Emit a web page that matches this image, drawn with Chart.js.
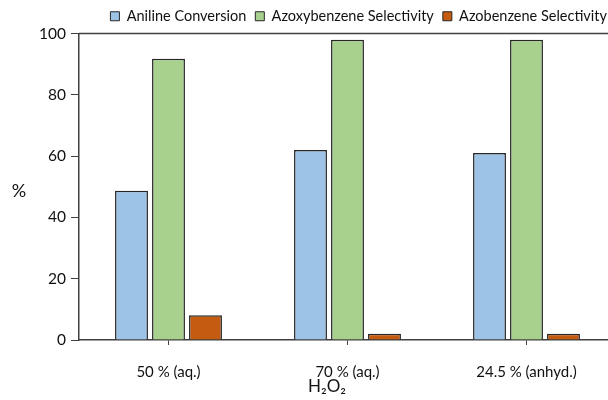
<!DOCTYPE html>
<html>
<head>
<meta charset="utf-8">
<script src="https://cdn.jsdelivr.net/npm/chart.js@4.4.1/dist/chart.umd.min.js"></script>
<style>
  html, body { margin: 0; padding: 0; background: #fff; overflow: hidden; }
  #wrap { width: 608px; height: 400px; overflow: hidden; }
</style>
</head>
<body>
<div id="wrap"><canvas id="chart" width="640" height="400"></canvas></div>
<script>
// data
const categories = ["50 % (aq.)", "70 % (aq.)", "24.5 % (anhyd.)"];
const anilineConversion = [48.7, 62, 61];
const azoxySelectivity = [91.8, 98, 98];
const azoSelectivity = [8.1, 2, 2];
const yTicks = [0, 20, 40, 60, 80, 100];

const FONT = "Lato, 'Open Sans', sans-serif";
const INK = "#404040";
const TEXT = "#111";

// top frame line + '%' and H2O2 labels
const extras = {
  id: "extras",
  afterDraw(chart) {
    const ctx = chart.ctx;
    const a = chart.chartArea;
    ctx.save();
    ctx.strokeStyle = INK;
    ctx.lineWidth = 1.5;
    ctx.beginPath();
    ctx.moveTo(a.left, a.top);
    ctx.lineTo(a.right, a.top);
    ctx.stroke();

    ctx.fillStyle = TEXT;
    ctx.textAlign = "center";
    ctx.textBaseline = "middle";
    ctx.font = "18px " + FONT;
    ctx.fillText("%", 19, 191);
    ctx.font = "17px " + FONT;
    ctx.fillText("H₂O₂", 327, 387);
    ctx.restore();
  }
};

new Chart(document.getElementById("chart"), {
  type: "bar",
  data: {
    labels: categories,
    datasets: [
      { label: "Aniline Conversion", data: anilineConversion, backgroundColor: "#9dc3e6" },
      { label: "Azoxybenzene Selectivity", data: azoxySelectivity, backgroundColor: "#a9d18e" },
      { label: "Azobenzene Selectivity", data: azoSelectivity, backgroundColor: "#c55a11" }
    ]
  },
  options: {
    responsive: false,
    animation: false,
    layout: { padding: { left: 0, right: 24, top: 0, bottom: 0 } },
    datasets: {
      bar: {
        borderColor: "#262626",
        borderWidth: 1.5,
        barPercentage: 0.89,
        categoryPercentage: 0.62
      }
    },
    plugins: {
      tooltip: { enabled: false },
      legend: {
        position: "top",
        align: "end",
        labels: {
          boxWidth: 9,
          boxHeight: 9,
          padding: 9,
          color: TEXT,
          font: { family: FONT, size: 14.5 },
          generateLabels(chart) {
            return chart.data.datasets.map((ds, i) => ({
              text: ds.label,
              fillStyle: ds.backgroundColor,
              strokeStyle: "#262626",
              lineWidth: 1,
              fontColor: TEXT,
              datasetIndex: i
            }));
          }
        }
      }
    },
    scales: {
      x: {
        afterFit(scale) { scale.height = 60; },
        grid: {
          display: true,
          offset: false,
          drawOnChartArea: false,
          drawTicks: true,
          tickLength: 5,
          color: INK
        },
        border: { display: true, color: INK, width: 1.5 },
        ticks: {
          color: TEXT,
          padding: 18,
          font: { family: FONT, size: 15 }
        }
      },
      y: {
        min: 0,
        max: 100,
        afterFit(scale) { scale.width = 79; },
        afterBuildTicks(scale) { scale.ticks = yTicks.map(v => ({ value: v })); },
        grid: {
          display: true,
          drawOnChartArea: false,
          drawTicks: true,
          tickLength: 8,
          color: INK
        },
        border: { display: true, color: INK, width: 1.5 },
        ticks: {
          color: TEXT,
          padding: 5,
          font: { family: FONT, size: 15.5 }
        }
      }
    }
  },
  plugins: [extras]
});
</script>
</body>
</html>
